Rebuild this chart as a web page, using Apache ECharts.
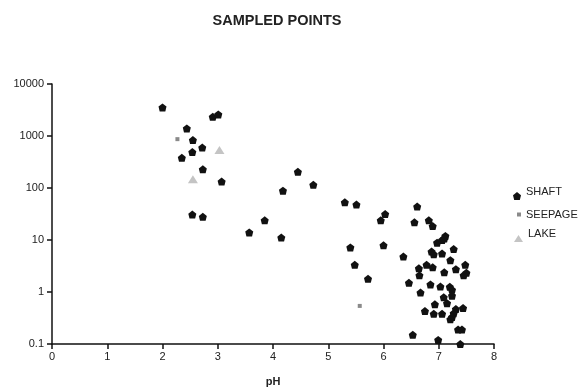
<!DOCTYPE html>
<html>
<head>
<meta charset="utf-8">
<script src="https://cdn.jsdelivr.net/npm/echarts@6/dist/echarts.min.js"></script>
<style>
  html, body { margin: 0; padding: 0; background: #fff; }
  #main { width: 580px; height: 387px; }
</style>
</head>
<body>
<div id="main"></div>
<script>
// 采样点数据 (pH, 浓度)
const shaftPh = [2.0, 2.44, 2.55, 2.72, 2.54, 2.35, 2.73, 2.91, 3.01, 3.07, 2.54, 2.73, 3.57, 3.85, 4.18, 4.15,
  4.45, 4.73, 5.30, 5.51, 6.61, 6.03, 5.95, 6.56, 6.82, 6.89, 7.12, 6.97, 7.06, 7.10, 5.40, 6.00, 7.27, 6.87,
  6.91, 7.06, 6.36, 7.21, 5.48, 6.78, 6.89, 6.64, 7.48, 7.31, 6.65, 7.10, 7.50, 7.45, 5.72, 6.46, 6.85, 7.03,
  7.20, 7.24, 6.67, 7.24, 7.09, 7.15, 6.93, 7.44, 7.31, 6.75, 6.91, 7.06, 7.27, 7.24, 7.21, 7.35, 7.42, 6.53,
  6.99, 7.39];
const shaftVal = [3550, 1400, 840, 600, 490, 380, 230, 2350, 2600, 133, 31, 28, 14, 24, 89, 11.2,
  205, 115, 53, 48, 44, 31.6, 24, 22, 24, 18.5, 12, 8.9, 10, 10.7, 7.2, 7.9, 6.7, 6.0,
  5.3, 5.5, 4.8, 4.1, 3.35, 3.35, 3.0, 2.85, 3.35, 2.75, 2.1, 2.4, 2.35, 2.1, 1.8, 1.5, 1.4, 1.27,
  1.26, 1.1, 0.98, 0.85, 0.79, 0.61, 0.58, 0.49, 0.47, 0.43, 0.38, 0.38, 0.39, 0.33, 0.30, 0.19, 0.19, 0.15,
  0.12, 0.10];
const seepagePh = [2.27, 5.57];
const seepageVal = [870, 0.54];
const lakePh = [3.03, 2.55];
const lakeVal = [540, 148];

const xTicks = [0, 1, 2, 3, 4, 5, 6, 7, 8];
const yTicks = ['0.1', '1', '10', '100', '1000', '10000'];

const FONT = 'Liberation Sans, Arial, sans-serif';
const SHAFT_ICON = 'path://M5 0 L10 4 L8.5 10 L1.5 10 L0 4 Z'; //矿井点的形状

function zipData(xs, ys) { //合并成散点数据
  const out = [];
  for (let i = 0; i < xs.length; i++) {
    out.push([xs[i], ys[i]]);
  }
  return out;
}

function oneLegend(name, left, top, w, h, shiftUp) { //每个图例单独放置，文字略高于图标
  return {
    data: [name],
    left: left,
    top: top,
    padding: 0,
    itemWidth: w,
    itemHeight: h,
    formatter: '{t|{name}}',
    textStyle: {
      rich: {
        t: { fontFamily: FONT, fontSize: 11, color: '#222', padding: [0, 0, shiftUp, 0] }
      }
    }
  };
}

const chart = echarts.init(document.getElementById('main'), null, { renderer: 'canvas' });

const labelFont = { fontFamily: FONT, fontSize: 11, color: '#222' };

var option = {
  animation: false,
  title: {
    text: 'SAMPLED POINTS',
    left: 272,
    textAlign: 'center',
    top: 8,
    textStyle: {
      fontFamily: FONT,
      fontSize: 14.5,
      fontWeight: 'bold',
      color: '#222'
    }
  },
  legend: [
    oneLegend('SHAFT', 513, 186, 8, 8, 9),
    oneLegend('SEEPAGE', 517, 209, 4, 4, 0),
    oneLegend('LAKE', 514, 228, 9, 7, 10)
  ],
  grid: {
    left: 52,
    right: 86,
    top: 84,
    bottom: 43,
    outerBoundsMode: 'none'
  },
  xAxis: {
    type: 'value',
    min: 0,
    max: 8,
    interval: 1,
    name: 'pH',
    nameLocation: 'middle',
    nameGap: 32,
    nameTextStyle: Object.assign({}, labelFont, { fontWeight: 'bold' }),
    axisLine: { lineStyle: { color: '#111', width: 1.5 } },
    axisTick: { inside: false, length: 5, lineStyle: { color: '#111', width: 1.5 } },
    axisLabel: Object.assign({ margin: 7 }, labelFont, {
      formatter: v => (xTicks.indexOf(v) >= 0 ? String(v) : '')
    }),
    splitLine: { show: false }
  },
  yAxis: {
    type: 'log',
    logBase: 10,
    min: 0.1,
    max: 10000,
    axisLine: { show: true, lineStyle: { color: '#111', width: 1.5 } },
    axisTick: { show: true, length: 5, lineStyle: { color: '#111', width: 1.5 } },
    minorTick: { show: false },
    axisLabel: Object.assign({ margin: 8 }, labelFont, {
      formatter: v => {
        const s = String(Math.round(v * 10) / 10);
        return yTicks.indexOf(s) >= 0 ? s : '';
      }
    }),
    splitLine: { show: false }
  },
  series: [
    {
      name: 'SHAFT',
      type: 'scatter',
      symbol: SHAFT_ICON,
      symbolSize: [8, 8],
      itemStyle: { color: '#111', opacity: 1 },
      data: zipData(shaftPh, shaftVal)
    },
    {
      name: 'SEEPAGE',
      type: 'scatter',
      symbol: 'rect',
      symbolSize: [4, 4],
      itemStyle: { color: '#8a8a8a', opacity: 1 },
      data: zipData(seepagePh, seepageVal)
    },
    {
      name: 'LAKE',
      type: 'scatter',
      symbol: 'triangle',
      symbolSize: [10, 8],
      itemStyle: { color: '#c4c4c4', opacity: 1 },
      data: zipData(lakePh, lakeVal)
    }
  ]
};

chart.setOption(option);
</script>
</body>
</html>
